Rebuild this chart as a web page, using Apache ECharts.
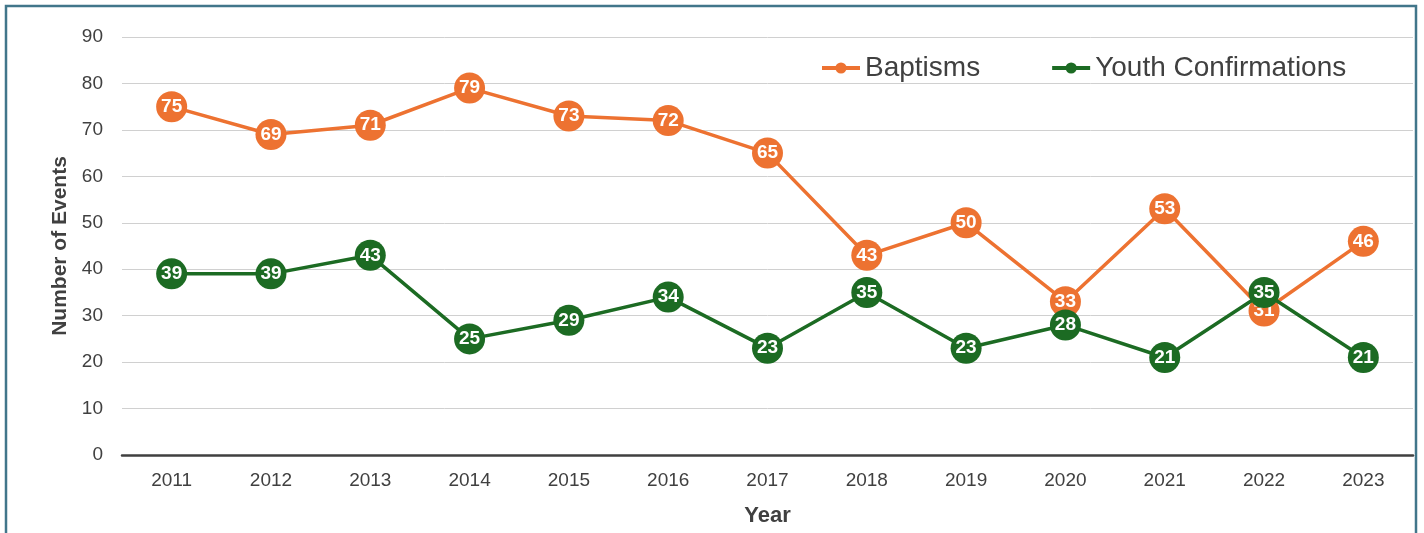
<!DOCTYPE html>
<html>
<head>
<meta charset="utf-8">
<script src="https://cdn.jsdelivr.net/npm/echarts@6/dist/echarts.min.js"></script>
<style>
html,body{margin:0;padding:0;background:#fff;}
#chart{width:1424px;height:533px;}
</style>
</head>
<body>
<div id="chart"></div>
<script>
const years = ['2011','2012','2013','2014','2015','2016','2017','2018','2019','2020','2021','2022','2023'];
const baptisms = [75,69,71,79,73,72,65,43,50,33,53,31,46];
const youthConfirmations = [39,39,43,25,29,34,23,35,23,28,21,35,21];
const seriesNames = ['Baptisms','Youth Confirmations'];

const FONT = '"Liberation Sans", Arial, sans-serif';
const TXT = '#404040';
const chart = echarts.init(document.getElementById('chart'));

function makeSeries(name, data, color, z) {
  return {
    name: name, type: 'line', data: data, z: z,
    symbol: 'circle', symbolSize: 31,
    itemStyle: {color: color},
    lineStyle: {color: color, width: 3.5},
    label: {show: true, position: 'inside', color: '#fff', fontWeight: 'bold', fontSize: 19, fontFamily: FONT},
    emphasis: {disabled: true},
    animation: false
  };
}

chart.setOption({
  animation: false,
  textStyle: {fontFamily: FONT},
  graphic: [{
    type: 'rect', silent: true,
    shape: {x: 6, y: 6, width: 1410, height: 600},
    style: {fill: 'none', stroke: '#41768A', lineWidth: 2.5}
  }],
  grid: {left: 122, right: 11, top: 37, bottom: 78},
  legend: {
    left: 820, top: 54, padding: 0,
    itemWidth: 38, itemHeight: 14, itemGap: 70,
    lineStyle: {width: 4},
    data: seriesNames,
    textStyle: {fontSize: 28, color: TXT, fontFamily: FONT}
  },
  xAxis: {
    type: 'category', data: years, boundaryGap: true,
    name: 'Year', nameLocation: 'middle', nameGap: 50,
    nameTextStyle: {fontSize: 22, fontWeight: 'bold', color: TXT, fontFamily: FONT},
    axisLine: {lineStyle: {color: '#404040', width: 2.5}},
    axisTick: {show: false},
    axisLabel: {fontSize: 19, color: TXT, margin: 16, fontFamily: FONT}
  },
  yAxis: {
    type: 'value', min: 0, max: 90, interval: 10,
    name: 'Number of Events', nameLocation: 'middle', nameGap: 50,
    nameTextStyle: {fontSize: 21, fontWeight: 'bold', color: TXT, fontFamily: FONT},
    axisLine: {show: false}, axisTick: {show: false},
    axisLabel: {fontSize: 19, color: TXT, margin: 19, fontFamily: FONT},
    splitLine: {lineStyle: {color: '#d0d0d0', width: 1}}
  },
  series: [
    makeSeries(seriesNames[0], baptisms, '#ED7231', 2),
    makeSeries(seriesNames[1], youthConfirmations, '#1C6B23', 3)
  ]
});
</script>
</body>
</html>
